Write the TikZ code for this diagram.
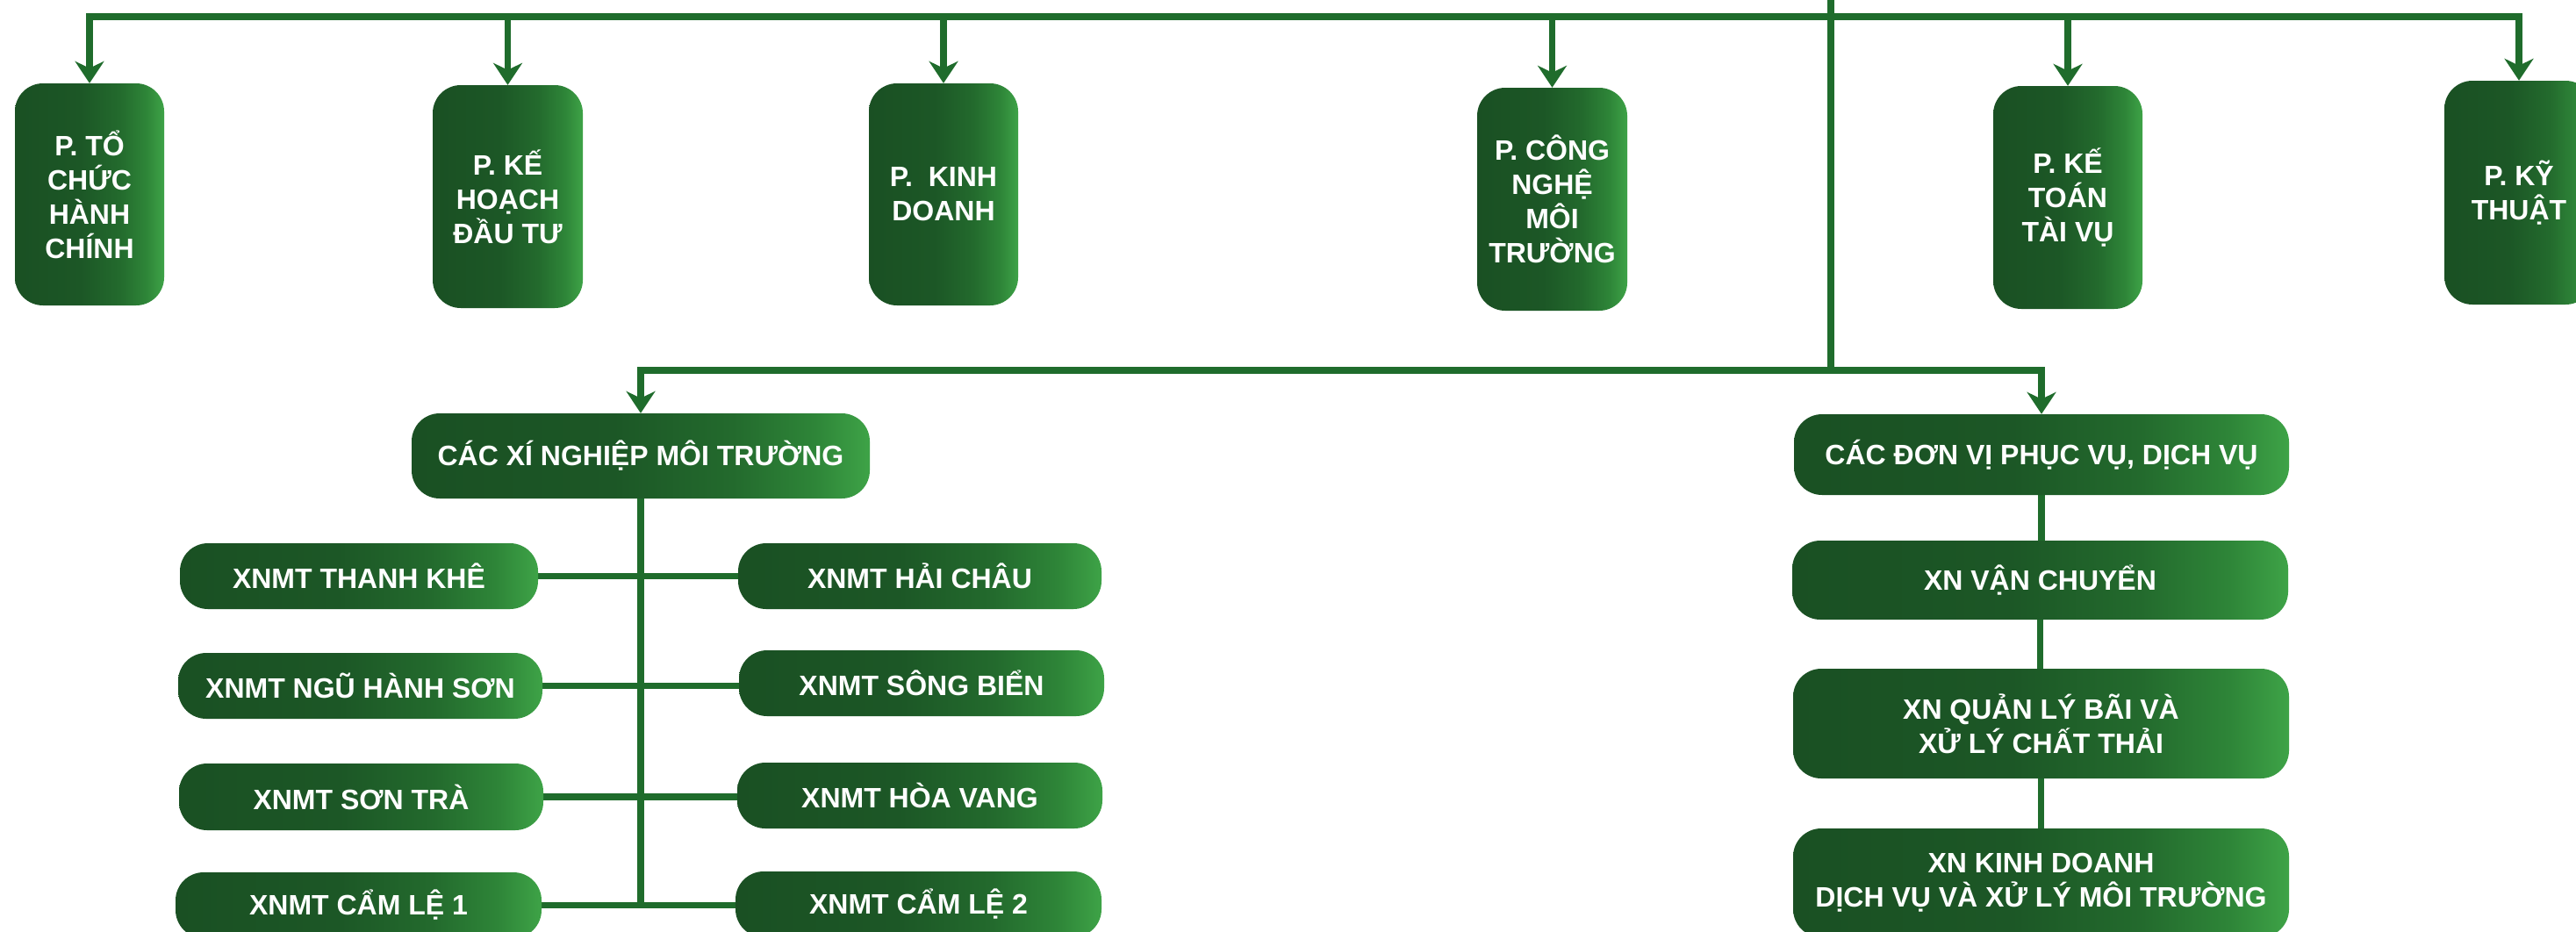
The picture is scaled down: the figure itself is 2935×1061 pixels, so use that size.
\documentclass[tikz,border=0pt]{standalone}
\usepackage{fontspec}
\setmainfont{Liberation Sans}
\usetikzlibrary{arrows.meta,backgrounds}
\pgfdeclarelayer{bottom}
\pgfsetlayers{bottom,background,main}
\definecolor{gA}{HTML}{1A5023}
\definecolor{gB}{HTML}{1C5726}
\definecolor{gC}{HTML}{236A2D}
\definecolor{gD}{HTML}{2E8538}
\definecolor{gE}{HTML}{3EA347}
\definecolor{lineg}{HTML}{1F6C2C}
\pgfdeclarehorizontalshading{boxshade}{100bp}{color(0bp)=(gA); color(25bp)=(gA); color(47bp)=(gB); color(60bp)=(gC); color(69bp)=(gD); color(75bp)=(gE); color(100bp)=(gE)}
\tikzset{
  orgbox/.style={shade, shading=boxshade, rounded corners=32pt, text=white,
    font=\fontsize{32}{39}\selectfont\bfseries, align=center, inner sep=0pt},
  linkline/.style={draw=lineg, line width=7.5pt, line join=miter},
  linkarrow/.style={linkline, -{Stealth[length=25pt,width=33pt,inset=8pt]}},
}
\begin{document}
\begin{tikzpicture}[x=1pt,y=-1pt]
\useasboundingbox (0,0) rectangle (2935,1061);
\begin{pgfonlayer}{bottom}
\fill[white] (0,0) rectangle (2935,1061);
\end{pgfonlayer}
\clip (0,0) rectangle (2935,1061);

% top row
\node[orgbox, minimum width=170pt, minimum height=253pt] (t1) at (102,221.5) {P. TỔ\\CHỨC\\HÀNH\\CHÍNH};
\node[orgbox, minimum width=171pt, minimum height=254pt] (t2) at (578.5,224) {P. KẾ\\HOẠCH\\ĐẦU TƯ};
\node[orgbox, minimum width=170pt, minimum height=253pt] (t3) at (1075,221.5) {P.\ \ KINH\\DOANH};
\node[orgbox, minimum width=171pt, minimum height=254pt] (t4) at (1768.5,227) {P. CÔNG\\NGHỆ\\MÔI\\TRƯỜNG};
\node[orgbox, minimum width=170pt, minimum height=254pt] (t5) at (2356,225) {P. KẾ\\TOÁN\\TÀI VỤ};
\node[orgbox, minimum width=170pt, minimum height=255pt] (t6) at (2870,219.5) {P. KỸ\\THUẬT};

% second level
\node[orgbox, minimum width=522pt, minimum height=97pt] (A) at (730,519.5) {CÁC XÍ NGHIỆP MÔI TRƯỜNG};
\node[orgbox, minimum width=564pt, minimum height=92pt] (B) at (2326,518) {CÁC ĐƠN VỊ PHỤC VỤ, DỊCH VỤ};

% left enterprises
\node[orgbox, minimum width=408pt, minimum height=75pt] (L1) at (409,656.5) {XNMT THANH KHÊ};
\node[orgbox, minimum width=415pt, minimum height=75pt] (L2) at (410.5,781.5) {XNMT NGŨ HÀNH SƠN};
\node[orgbox, minimum width=415pt, minimum height=76pt] (L3) at (411.5,908) {XNMT SƠN TRÀ};
\node[orgbox, minimum width=417pt, minimum height=75pt] (L4) at (408.5,1031.5) {XNMT CẨM LỆ 1};
\node[orgbox, minimum width=414pt, minimum height=75pt] (R1) at (1048,656.5) {XNMT HẢI CHÂU};
\node[orgbox, minimum width=416pt, minimum height=75pt] (R2) at (1050,778.5) {XNMT SÔNG BIỂN};
\node[orgbox, minimum width=416pt, minimum height=75pt] (R3) at (1048,906.5) {XNMT HÒA VANG};
\node[orgbox, minimum width=417pt, minimum height=75pt] (R4) at (1046.5,1030.5) {XNMT CẨM LỆ 2};

% service units
\node[orgbox, minimum width=565pt, minimum height=90pt] (V1) at (2324.5,661) {XN VẬN CHUYỂN};
\node[orgbox, minimum width=565pt, minimum height=125pt] (V2) at (2325.5,824.5) {XN QUẢN LÝ BÃI VÀ\\XỬ LÝ CHẤT THẢI};
\node[orgbox, minimum width=565pt, minimum height=124pt] (V3) at (2325.5,1006) {XN KINH DOANH\\DỊCH VỤ VÀ XỬ LÝ MÔI TRƯỜNG};

\coordinate (root) at (2086,-10);
\coordinate (topline) at (0,19);
\coordinate (midline) at (0,422);

\begin{pgfonlayer}{background}
  \draw[linkarrow] (t6.north |- topline) -- (t1.north |- topline) -- (t1.north);
  \draw[linkarrow] (t5.north |- topline) -- (t6.north |- topline) -- (t6.north);
  \draw[linkarrow] (t2.north |- topline) -- (t2.north);
  \draw[linkarrow] (t3.north |- topline) -- (t3.north);
  \draw[linkarrow] (t4.north |- topline) -- (t4.north);
  \draw[linkarrow] (t5.north |- topline) -- (t5.north);
  \draw[linkline] (root) -- (root |- midline);
  \draw[linkarrow] (root |- midline) -- (A.north |- midline) -- (A.north);
  \draw[linkarrow] (root |- midline) -- (B.north |- midline) -- (B.north);
  \draw[linkline] (A.south) -- (A.south |- L4.east);
  \draw[linkline] (L1.east) -- (L1.east -| R1.west);
  \draw[linkline] (L2.east) -- (L2.east -| R2.west);
  \draw[linkline] (L3.east) -- (L3.east -| R3.west);
  \draw[linkline] (L4.east) -- (L4.east -| R4.west);
  \draw[linkline] (B.south) -- (B.south |- V1.north);
  \draw[linkline] (V1.south) -- (V1.south |- V2.north);
  \draw[linkline] (V2.south) -- (V2.south |- V3.north);
\end{pgfonlayer}
\end{tikzpicture}
\end{document}
